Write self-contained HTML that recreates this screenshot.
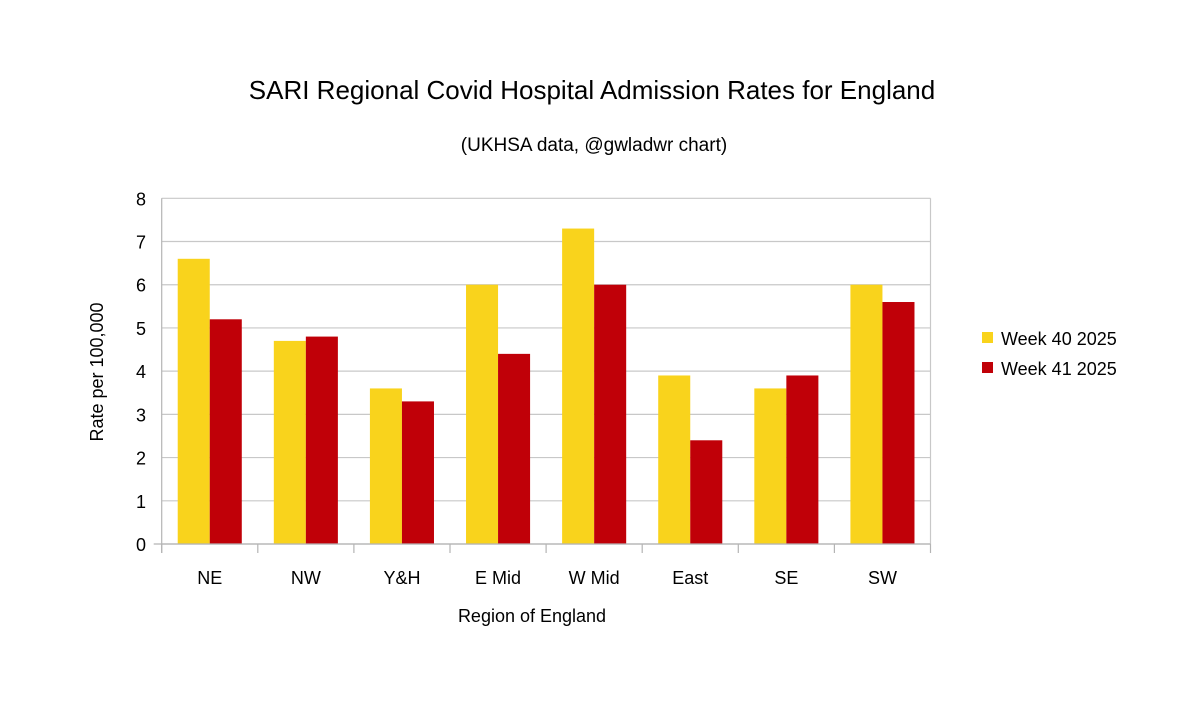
<!DOCTYPE html>
<html><head><meta charset="utf-8"><style>
body{margin:0;background:#fff;}
svg text{font-family:"Liberation Sans",Arial,sans-serif;fill:#000;}
</style></head><body>
<svg id="c" width="1200" height="703" viewBox="0 0 1200 703">
<text x="592" y="99" font-size="26" text-anchor="middle">SARI Regional Covid Hospital Admission Rates for England</text>
<text x="594" y="151" font-size="19" text-anchor="middle">(UKHSA data, @gwladwr chart)</text>
<g id="plot"></g>
<text transform="translate(103,372) rotate(-90)" font-size="18" text-anchor="middle">Rate per 100,000</text>
<text x="532" y="622" font-size="18" text-anchor="middle">Region of England</text>
<g>
<rect x="982" y="332" width="11" height="11" fill="#f9d31c"/>
<text x="1001" y="345" font-size="18">Week 40 2025</text>
<rect x="982" y="362" width="11" height="11" fill="#c00008"/>
<text x="1001" y="375" font-size="18">Week 41 2025</text>
</g>
</svg>
<script>
const categories=["NE","NW","Y&H","E Mid","W Mid","East","SE","SW"];
const week40=[6.6,4.7,3.6,6.0,7.3,3.9,3.6,6.0];
const week41=[5.2,4.8,3.3,4.4,6.0,2.4,3.9,5.6];
const yTicks=[0,1,2,3,4,5,6,7,8];
const NS="http://www.w3.org/2000/svg";
const g=document.getElementById('plot');
const X0=161.7,X1=930.5,Y0=544,Y8=198.3,YMAX=8;
const cw=(X1-X0)/categories.length;
function y(v){return Y0-(v/YMAX)*(Y0-Y8);}
function xc(i){return X0+i*cw;}
function mk(t,a){const e=document.createElementNS(NS,t);for(const k in a)e.setAttribute(k,a[k]);g.appendChild(e);return e;}
yTicks.forEach(t=>{
  const l=mk('line',{x1:X0,x2:X1,y1:y(t),y2:y(t),stroke:'#c8c8c8','stroke-width':1.2});
  
  
  const tx=mk('text',{x:146,y:y(t)+7,'font-size':18,'text-anchor':'end'});
  tx.textContent=t;
  
  
});
const rb=mk('line',{x1:X1,x2:X1,y1:Y8,y2:Y0,stroke:'#c8c8c8','stroke-width':1.2});


const bw=cw/3;
categories.forEach((c,i)=>{
  const b1=mk('rect',{x:xc(i)+bw/2,y:y(week40[i]),width:bw,height:Y0-y(week40[i]),fill:'#f9d31c'});
  
  
  const b2=mk('rect',{x:xc(i)+bw*1.5,y:y(week41[i]),width:bw,height:Y0-y(week41[i]),fill:'#c00008'});
  
  
  const tx=mk('text',{x:xc(i)+cw/2,y:584,'font-size':18,'text-anchor':'middle'});
  tx.textContent=c;
  
  
});
for(let i=0;i<=categories.length;i++){
  const t=mk('line',{x1:xc(i),x2:xc(i),y1:Y0,y2:553,stroke:'#b4b4b4','stroke-width':1.2});
  
  
}
const ax=mk('line',{x1:X0,x2:X0,y1:Y8,y2:553,stroke:'#b4b4b4','stroke-width':1.2});


const bx=mk('line',{x1:X0-8,x2:X1,y1:Y0,y2:Y0,stroke:'#b4b4b4','stroke-width':1.2});


</script>
</body></html>
